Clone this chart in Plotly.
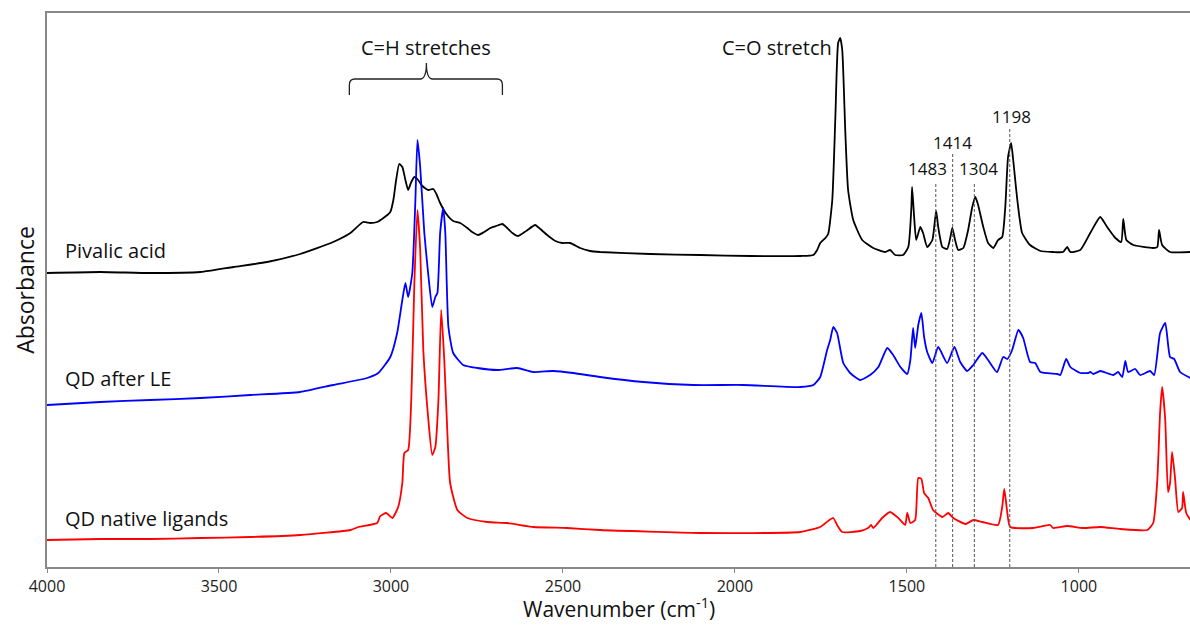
import plotly.graph_objects as go

# ---------------- data ----------------
# Pivalic acid (black)
piv_wn = [4000, 3845, 3700, 3554, 3458, 3360, 3264, 3168, 3118, 3081, 3060, 3040, 3022, 3002,
          2993, 2985, 2976, 2967, 2958, 2950, 2941, 2932, 2921, 2909, 2892, 2877, 2868, 2857,
          2839, 2819, 2799, 2778, 2764, 2746, 2729, 2711, 2694, 2676, 2665, 2647, 2630, 2607,
          2581, 2566, 2546, 2522, 2502, 2479, 2450, 2421, 2392, 2246, 2101, 1955, 1810, 1772,
          1761, 1752, 1737, 1729, 1717, 1708, 1700, 1694, 1688, 1679, 1671, 1656, 1630, 1598,
          1563, 1549, 1534, 1511, 1496, 1487, 1485, 1479, 1473, 1461, 1453, 1441, 1426, 1415,
          1409, 1397, 1383, 1374, 1368, 1360, 1351, 1336, 1322, 1310, 1301, 1293, 1278, 1264,
          1249, 1235, 1223, 1214, 1206, 1197, 1191, 1179, 1165, 1142, 1112, 1075, 1046, 1034,
          1025, 996, 967, 938, 918, 894, 877, 871, 862, 842, 784, 772, 767, 758, 735, 676]
piv_abs = [2.94, 2.95, 2.94, 2.95, 3.00, 3.05, 3.13, 3.25, 3.34, 3.45, 3.44, 3.45, 3.49, 3.55,
           3.67, 3.87, 4.03, 4.00, 3.87, 3.77, 3.85, 3.90, 3.87, 3.81, 3.77, 3.78, 3.73, 3.64,
           3.53, 3.46, 3.44, 3.39, 3.35, 3.32, 3.35, 3.39, 3.41, 3.43, 3.40, 3.34, 3.31, 3.36,
           3.42, 3.38, 3.32, 3.26, 3.24, 3.24, 3.19, 3.16, 3.15, 3.13, 3.12, 3.11, 3.11, 3.12,
           3.17, 3.24, 3.29, 3.33, 3.67, 4.50, 5.24, 5.29, 5.17, 4.34, 3.77, 3.47, 3.27, 3.19,
           3.15, 3.17, 3.12, 3.12, 3.20, 3.60, 3.80, 3.50, 3.27, 3.40, 3.34, 3.20, 3.27, 3.56,
           3.40, 3.20, 3.18, 3.29, 3.39, 3.27, 3.17, 3.19, 3.37, 3.60, 3.70, 3.62, 3.40, 3.24,
           3.19, 3.27, 3.30, 3.60, 4.10, 4.24, 4.07, 3.67, 3.34, 3.22, 3.16, 3.15, 3.15, 3.20,
           3.15, 3.17, 3.34, 3.50, 3.40, 3.29, 3.25, 3.48, 3.27, 3.22, 3.19, 3.20, 3.37, 3.22,
           3.15, 3.15]

# QD after ligand exchange (blue)
le_wn = [4000, 3845, 3700, 3554, 3409, 3264, 3168, 3069, 3037, 3002, 2982, 2967, 2958, 2950,
         2938, 2929, 2923, 2915, 2903, 2892, 2880, 2871, 2865, 2857, 2848, 2842, 2833, 2819,
         2790, 2749, 2691, 2633, 2586, 2528, 2470, 2392, 2266, 2121, 1976, 1810, 1772, 1752,
         1732, 1723, 1714, 1703, 1685, 1665, 1636, 1607, 1583, 1557, 1540, 1519, 1499, 1490,
         1482, 1476, 1467, 1458, 1450, 1441, 1426, 1409, 1383, 1362, 1345, 1325, 1307, 1281,
         1264, 1238, 1220, 1208, 1194, 1176, 1162, 1142, 1127, 1112, 1063, 1054, 1037, 1025,
         996, 973, 967, 958, 938, 900, 886, 874, 865, 857, 836, 822, 793, 781, 764, 749, 735,
         723, 706, 676]
le_abs = [1.62, 1.65, 1.67, 1.69, 1.72, 1.75, 1.82, 1.89, 1.94, 2.10, 2.34, 2.67, 2.84, 2.70,
          2.94, 3.67, 4.27, 4.00, 3.34, 2.94, 2.60, 2.70, 2.74, 3.34, 3.59, 3.34, 2.40, 2.14,
          2.02, 1.99, 1.97, 1.99, 1.95, 1.96, 1.94, 1.90, 1.85, 1.82, 1.82, 1.80, 1.82, 1.90,
          2.17, 2.27, 2.40, 2.34, 2.04, 1.94, 1.87, 1.92, 2.00, 2.19, 2.12, 2.00, 1.93, 2.07,
          2.39, 2.19, 2.42, 2.54, 2.30, 2.15, 2.04, 2.20, 2.04, 2.20, 2.05, 1.96, 2.02, 2.14,
          2.07, 1.95, 2.10, 2.08, 2.17, 2.37, 2.29, 2.05, 2.04, 1.95, 1.93, 1.92, 2.08, 2.00,
          1.94, 1.94, 1.95, 1.93, 1.96, 1.92, 1.95, 1.90, 2.06, 1.95, 1.98, 1.92, 1.96, 1.92,
          2.34, 2.44, 2.10, 2.08, 1.95, 1.89]

# QD native ligands (red)
nat_wn = [4000, 3845, 3700, 3554, 3409, 3264, 3118, 3095, 3040, 3031, 3014, 2996, 2979, 2967,
          2961, 2950, 2941, 2932, 2923, 2915, 2906, 2892, 2880, 2871, 2862, 2854, 2845, 2836,
          2828, 2807, 2778, 2720, 2662, 2586, 2488, 2392, 2101, 1810, 1752, 1729, 1714, 1703,
          1688, 1636, 1613, 1604, 1598, 1572, 1549, 1525, 1505, 1499, 1490, 1476, 1467, 1458,
          1450, 1438, 1424, 1397, 1380, 1365, 1330, 1307, 1281, 1235, 1223, 1217, 1208, 1200,
          1133, 1084, 1075, 1034, 988, 938, 880, 801, 784, 772, 764, 758, 749, 741, 735, 729,
          720, 711, 700, 697, 688, 676]
nat_abs = [0.27, 0.28, 0.28, 0.29, 0.30, 0.32, 0.37, 0.40, 0.44, 0.51, 0.54, 0.49, 0.60, 0.84,
           1.14, 1.17, 1.67, 2.84, 3.57, 3.17, 2.17, 1.50, 1.12, 1.20, 1.67, 2.57, 2.07, 1.34,
           0.84, 0.57, 0.49, 0.45, 0.44, 0.40, 0.39, 0.37, 0.34, 0.35, 0.40, 0.46, 0.49, 0.42,
           0.35, 0.36, 0.39, 0.42, 0.39, 0.49, 0.55, 0.49, 0.42, 0.54, 0.44, 0.47, 0.89, 0.88,
           0.74, 0.69, 0.57, 0.50, 0.54, 0.49, 0.43, 0.47, 0.45, 0.42, 0.60, 0.78, 0.54, 0.40,
           0.39, 0.42, 0.39, 0.41, 0.39, 0.40, 0.38, 0.37, 0.44, 0.87, 1.54, 1.80, 1.47, 0.75,
           0.84, 1.15, 0.87, 0.55, 0.59, 0.75, 0.54, 0.47]

series_names = ["Pivalic acid", "QD after LE", "QD native ligands"]
series_colors = ["#000000", "#0000ff", "#ff0000"]
label_abs = [3.17, 1.89, 0.49]

# marked peaks: dashed line position, line top, label text, label position
mark_wn = [1416, 1367, 1304, 1201]
mark_top = [3.85, 4.15, 3.85, 4.39]
mark_text = ["1483", "1414", "1304", "1198"]
mark_text_wn = [1439, 1368, 1293, 1195]
mark_text_abs = [3.99, 4.25, 3.99, 4.51]

x_ticks = [4000, 3500, 3000, 2500, 2000, 1500, 1000]
x_range = [4000, 677]
y_range = [0, 5.54]

# ---------------- figure ----------------
FONT = "Open Sans"
fig = go.Figure()
for wn, ab, name, col in zip([piv_wn, le_wn, nat_wn], [piv_abs, le_abs, nat_abs],
                             series_names, series_colors):
    fig.add_trace(go.Scatter(x=wn, y=ab, mode="lines", name=name,
                             line=dict(color=col, width=1.8, shape="spline", smoothing=0.5),
                             showlegend=False))

for name, ya in zip(series_names, label_abs):
    fig.add_annotation(x=3953, y=ya, text=name, showarrow=False, xanchor="left",
                       yanchor="middle", font=dict(family=FONT, size=20, color="#111"))

for wn, top, txt, twn, tab in zip(mark_wn, mark_top, mark_text, mark_text_wn, mark_text_abs):
    fig.add_shape(type="line", x0=wn, x1=wn, y0=0, y1=top, xref="x", yref="y",
                  line=dict(color="#555", width=1, dash="3px,2px"))
    fig.add_annotation(x=twn, y=tab, text=txt, showarrow=False,
                       font=dict(family=FONT, size=17, color="#111"))

# C-H bracket
fig.add_shape(type="path", xref="x", yref="y",
              path="M 3121,4.72 L 3121,4.82 Q 3121,4.88 3105,4.88 L 2915,4.88 "
                   "Q 2897,4.88 2897,5.04 Q 2897,4.88 2879,4.88 L 2692,4.88 "
                   "Q 2676,4.88 2676,4.82 L 2676,4.72",
              line=dict(color="#222", width=1.3))
fig.add_annotation(x=2897, y=5.20, text="C=H stretches", showarrow=False,
                   font=dict(family=FONT, size=20, color="#111"))
fig.add_annotation(x=1877, y=5.20, text="C=O stretch", showarrow=False,
                   font=dict(family=FONT, size=20, color="#111"))

# x-axis title placed as a paper annotation for precise spacing
fig.add_annotation(x=0.5, y=0, xref="paper", yref="paper", yshift=-40,
                   text="Wavenumber (cm<sup>-1</sup>)", showarrow=False,
                   xanchor="center", yanchor="middle",
                   font=dict(family=FONT, size=21, color="#111"))

fig.update_layout(
    width=1190, height=625,
    margin=dict(l=47, r=0, t=13, b=58),
    paper_bgcolor="white", plot_bgcolor="white",
    font=dict(family=FONT, color="#222"),
    xaxis=dict(range=x_range, tickvals=x_ticks, ticks="outside", ticklen=4,
               tickcolor="#888", showline=True, linecolor="#888", linewidth=1.5,
               mirror=True, showgrid=False, zeroline=False,
               tickfont=dict(family=FONT, size=16, color="#222")),
    yaxis=dict(range=y_range, showticklabels=False, ticks="", showline=True,
               linecolor="#888", linewidth=1.5, showgrid=False, zeroline=False,
               title=dict(text="Absorbance", standoff=4,
                          font=dict(family=FONT, size=23, color="#111"))),
)

fig.write_html("out.html")
